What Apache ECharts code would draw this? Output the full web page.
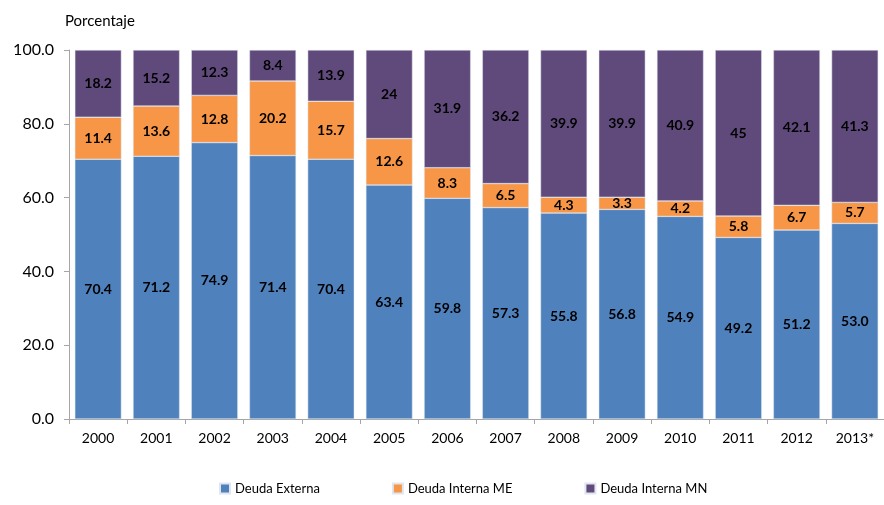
<!DOCTYPE html>
<html>
<head>
<meta charset="utf-8">
<script src="https://cdn.jsdelivr.net/npm/echarts@6/dist/echarts.min.js"></script>
<style>
html, body { margin: 0; padding: 0; background: #fff; }
#chart { width: 884px; height: 505px; }
</style>
</head>
<body>
<div id="chart"></div>
<script>
// años
const years = ['2000', '2001', '2002', '2003', '2004', '2005', '2006', '2007', '2008', '2009', '2010', '2011', '2012', '2013*'];
// porcentajes de cada componente
const deudaExterna = [70.4, 71.2, 74.9, 71.4, 70.4, 63.4, 59.8, 57.3, 55.8, 56.8, 54.9, 49.2, 51.2, 53.0];
const deudaInternaME = [11.4, 13.6, 12.8, 20.2, 15.7, 12.6, 8.3, 6.5, 4.3, 3.3, 4.2, 5.8, 6.7, 5.7];
const deudaInternaMN = [18.2, 15.2, 12.3, 8.4, 13.9, 24, 31.9, 36.2, 39.9, 39.9, 40.9, 45, 42.1, 41.3];

const font = 'Lato, "Open Sans", sans-serif';

function labelStyle(fmt) {
  return {
    show: true,
    position: 'inside',
    color: '#000',
    fontWeight: 'bold',
    fontSize: 14,
    fontFamily: font,
    formatter: fmt
  };
}

const myEchart = echarts.init(document.getElementById('chart'));
myEchart.setOption({
  animation: false,
  color: ['#4F81BD', '#F79646', '#604A7B'],
  grid: { left: 69, right: 0, top: 50, bottom: 86 },
  title: {
    text: 'Porcentaje',
    left: 60,
    top: 9,
    textStyle: { fontSize: 15, fontWeight: 'normal', color: '#000', fontFamily: font }
  },
  legend: {
    bottom: 5,
    left: 214,
    itemGap: 72,
    itemWidth: 10,
    itemHeight: 10,
    icon: 'rect',
    textStyle: { fontSize: 13, color: '#000', fontFamily: font }
  },
  xAxis: {
    type: 'category',
    data: years,
    axisLine: { lineStyle: { color: '#a6a6a6' } },
    axisTick: { show: true, length: 5, lineStyle: { color: '#a6a6a6' } },
    axisLabel: { color: '#000', fontSize: 14, margin: 12, fontFamily: font }
  },
  yAxis: {
    type: 'value',
    min: 0,
    max: 100,
    interval: 20,
    axisLine: { show: true, lineStyle: { color: '#a6a6a6' } },
    axisTick: { show: true, length: 5, lineStyle: { color: '#a6a6a6' } },
    splitLine: { show: false },
    axisLabel: {
      color: '#000',
      fontSize: 16,
      margin: 15,
      fontFamily: font,
      formatter: v => v.toFixed(1)
    }
  },
  series: [
    {
      name: 'Deuda Externa',
      type: 'bar',
      stack: 'total',
      barCategoryGap: '20%',
      data: deudaExterna,
      itemStyle: { borderColor: '#dfe6f0', borderWidth: 0.5 },
      label: labelStyle(p => p.value.toFixed(1))
    },
    {
      name: 'Deuda Interna ME',
      type: 'bar',
      stack: 'total',
      data: deudaInternaME,
      itemStyle: { borderColor: '#dfe6f0', borderWidth: 0.5 },
      label: labelStyle(p => String(p.value))
    },
    {
      name: 'Deuda Interna MN',
      type: 'bar',
      stack: 'total',
      data: deudaInternaMN,
      itemStyle: { borderColor: '#dfe6f0', borderWidth: 0.5 },
      label: labelStyle(p => String(p.value))
    }
  ]
});
</script>
</body>
</html>
